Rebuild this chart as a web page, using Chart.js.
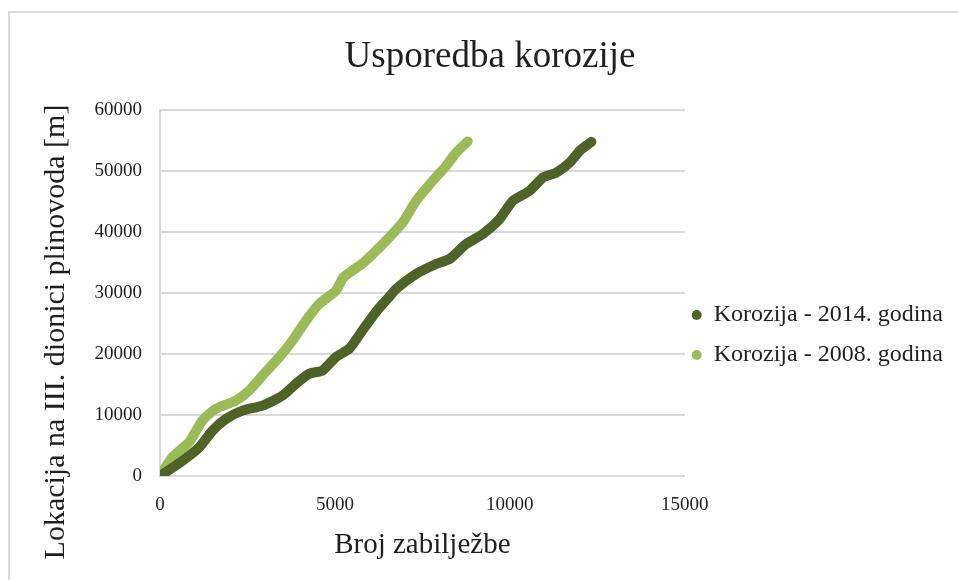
<!DOCTYPE html>
<html>
<head>
<meta charset="utf-8">
<script src="https://cdn.jsdelivr.net/npm/chart.js@4.4.0/dist/chart.umd.min.js"></script>
<style>
  body { margin: 0; background: #fff; overflow: hidden; }
  #wrap {
    position: absolute; left: 8px; top: 11px;
    width: 962px; height: 567px;
    border-left: 2px solid #d9d9d9; border-top: 2px solid #d9d9d9;
  }
</style>
</head>
<body>
<div id="wrap"><canvas id="chart"></canvas></div>
<script>
// Korozija - 2014. godina
const x2014 = [0, 638, 1117, 1498, 1880, 2357, 2930, 3502, 3884, 4266, 4647, 5028, 5411, 5792, 6175, 6556, 6748, 7321, 7893, 8274, 8752, 9228, 9706, 10086, 10564, 10945, 11329, 11710, 11996, 12331];
const y2014 = [0, 2475, 4670, 7425, 9350, 10730, 11550, 13200, 15130, 16780, 17330, 19520, 20900, 23930, 26950, 29420, 30690, 33150, 34790, 35610, 38070, 39700, 42160, 45160, 46800, 48980, 49800, 51440, 53360, 54840];
// Korozija - 2008. godina
const x2008 = [0, 352, 830, 1211, 1594, 2167, 2548, 2929, 3407, 3788, 4172, 4552, 5030, 5243, 5759, 5984, 6462, 6937, 7321, 7796, 8180, 8466, 8798];
const y2008 = [0, 3080, 5540, 9100, 11020, 12380, 14020, 16480, 19480, 22210, 25490, 28230, 30410, 32580, 34750, 35870, 38610, 41610, 45160, 48440, 50900, 53080, 54900];

const seriesNames = ["Korozija - 2014. godina", "Korozija - 2008. godina"];
const colors = ["#4f6228", "#9bbb59"];

const xTicks = [0, 5000, 10000, 15000];
const yTicks = [0, 10000, 20000, 30000, 40000, 50000, 60000];

const chartTitle = "Usporedba korozije";
const xTitle = "Broj zabilježbe";
const yTitle = "Lokacija na III. dionici plinovoda [m]";

const toPoints = (xs, ys) => xs.map((x, i) => ({ x: x, y: ys[i] }));

const serif = "'Liberation Serif', 'Times New Roman', serif";
const txt = "#1f1f1f";
const gridColor = "#d9d9d9";

// y title is centred lower than the plot, as in the original (Excel) chart
const yTitlePlugin = {
    id: "yTitle",
    afterDraw(chart) {
        const ctx = chart.ctx;
        ctx.save();
        ctx.translate(46, 319);
        ctx.rotate(-Math.PI / 2);
        ctx.font = "30px " + serif;
        ctx.fillStyle = txt;
        ctx.textAlign = "center";
        ctx.textBaseline = "middle";
        ctx.fillText(yTitle, 0, 0);
        ctx.restore();
    }
};

// move the legend a bit left and down, and let it use the space up to the edge
const legendShift = {
    id: "legendShift",
    afterLayout(chart) {
        const lg = chart.legend;
        lg.left -= 9;
        lg.right = chart.width;
        lg.width = lg.right - lg.left;
        lg.top += 47; lg.bottom += 47;
    }
};

const myChart = document.getElementById("chart");
const graficar = new Chart(myChart, {
    type: "scatter",
    data: {
        datasets: [
            { label: seriesNames[0], data: toPoints(x2014, y2014) },
            { label: seriesNames[1], data: toPoints(x2008, y2008) }
        ].map((d, i) => Object.assign(d, {
            showLine: true,
            borderColor: colors[i],
            backgroundColor: colors[i],
            borderWidth: 10,
            borderCapStyle: "round",
            borderJoinStyle: "round",
            pointRadius: 0,
            tension: 0.2
        }))
    },
    plugins: [yTitlePlugin, legendShift],
    options: {
        responsive: true,
        maintainAspectRatio: false,
        animation: false,
        events: [],
        layout: { padding: { left: 8, right: 10, top: 0, bottom: 17 } },
        plugins: {
            title: {
                display: true,
                text: chartTitle,
                color: txt,
                font: { family: serif, size: 37, weight: "normal" },
                padding: { top: 22, bottom: 31 }
            },
            legend: {
                position: "right",
                maxWidth: 320,
                labels: {
                    usePointStyle: true,
                    pointStyle: "circle",
                    boxWidth: 10,
                    boxHeight: 7,
                    padding: 16,
                    color: txt,
                    font: { family: serif, size: 24 },
                    generateLabels: (chart) => Chart.defaults.plugins.legend.labels.generateLabels(chart)
                        .map(l => Object.assign(l, { lineWidth: 0, fillStyle: colors[l.datasetIndex] }))
                }
            },
            tooltip: { enabled: false }
        },
        scales: {
            x: {
                type: "linear",
                min: 0, max: 15000,
                afterBuildTicks: (axis) => { axis.ticks = xTicks.map(v => ({ value: v })); },
                afterFit: (axis) => { axis.height = 87; },
                grid: { display: false, drawTicks: false },
                border: { color: gridColor, width: 2 },
                ticks: { color: txt, font: { family: serif, size: 19 }, padding: 18, maxRotation: 0, callback: (v) => String(v) },
                title: {
                    display: true, text: xTitle, color: txt,
                    font: { family: serif, size: 29 }, padding: { top: 11, bottom: 0 }
                }
            },
            y: {
                type: "linear",
                min: 0, max: 60000,
                afterBuildTicks: (axis) => { axis.ticks = yTicks.map(v => ({ value: v })); },
                afterFit: (axis) => { axis.width = 142; },
                grid: { color: gridColor, lineWidth: 2, drawTicks: false },
                border: { color: gridColor, width: 2 },
                ticks: { color: txt, font: { family: serif, size: 19 }, padding: 18, callback: (v) => String(v) }
            }
        }
    }
});
</script>
</body>
</html>
